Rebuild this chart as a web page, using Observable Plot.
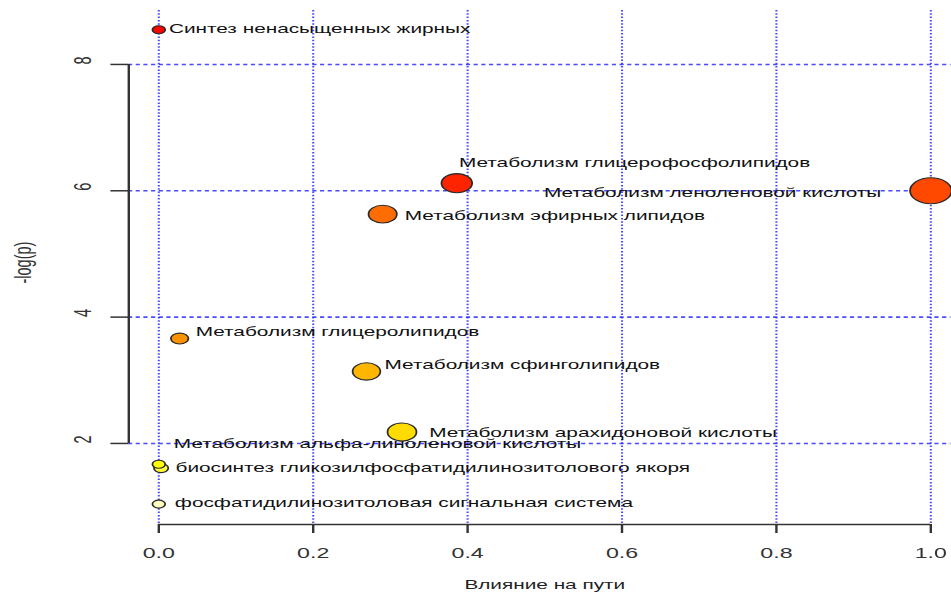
<!DOCTYPE html>
<html>
<head>
<meta charset="utf-8">
<script src="https://cdn.jsdelivr.net/npm/d3@7"></script>
<script src="https://cdn.jsdelivr.net/npm/@observablehq/plot@0.6"></script>
<style>
  html, body { margin: 0; padding: 0; background: #fff; }
  #chart { transform: scaleX(1.6); transform-origin: 0 0; width: 594px; height: 596px; }
</style>
</head>
<body>
<div id="chart"></div>
<script>
// ---- data ----
const pathways = [
  "Синтез ненасыщенных жирных",
  "Метаболизм глицерофосфолипидов",
  "Метаболизм леноленовой кислоты",
  "Метаболизм эфирных липидов",
  "Метаболизм глицеролипидов",
  "Метаболизм сфинголипидов",
  "Метаболизм арахидоновой кислоты",
  "Метаболизм альфа-линоленовой кислоты",
  "биосинтез гликозилфосфатидилинозитолового якоря",
  "фосфатидилинозитоловая сигнальная система"
];
const impact = [0.0, 0.386, 1.0, 0.290, 0.027, 0.269, 0.315, 0.0, 0.003, 0.0];
const logp   = [8.55, 6.12, 6.00, 5.63, 3.66, 3.14, 2.18, 1.67, 1.61, 1.04];
const xTicks = [0, 0.2, 0.4, 0.6, 0.8, 1.0];
const yTicks = [2, 4, 6, 8];
const xTitle = "Влияние на пути";
const yTitle = "-log(p)";

// ---- styling / layout (not data) ----
const heat = ["#FF0000", "#FF2400", "#FF4900", "#FF6D00", "#FF9200",
              "#FFB600", "#FFDB00", "#FFFF00", "#FFFF40", "#FFFFBF"];
// label offsets [dx, dy, anchor] in unscaled px
const labelOffsets = [
  [6.3, -1, "start"],
  [1.3, -20, "start"],
  [-31, 2, "end"],
  [13.8, 1.5, "start"],
  [10, -7, "start"],
  [11.25, -7, "start"],
  [17, 0.5, "start"],
  [9.4, -20, "start"],
  [9, -0.5, "start"],
  [10, -1.5, "start"]
];
const xDomain = [-0.03886, 1.0264];
const yDomain = [0.717, 8.854];

const data = pathways.map((name, i) => ({name, impact: impact[i], logp: logp[i]}));
const ranked = data.slice().sort((a, b) => b.logp - a.logp).map(d => d.name);

const font = "'Liberation Sans', Arial, sans-serif";
const gridColor = "#2b2bff";
const axisColor = "#333";

const marks = [
  Plot.gridX(xTicks, {stroke: gridColor, strokeOpacity: 0.85, strokeWidth: 1.3, strokeDasharray: "1.5,1.8"}),
  Plot.gridY(yTicks, {stroke: gridColor, strokeOpacity: 0.85, strokeWidth: 1.6, strokeDasharray: "2.6,2.2"}),
  Plot.ruleY([yDomain[0]], {x1: xTicks[0], x2: xTicks[xTicks.length - 1], stroke: axisColor, strokeWidth: 1.5}),
  Plot.ruleX([xDomain[0]], {y1: yTicks[0], y2: yTicks[yTicks.length - 1], stroke: axisColor, strokeWidth: 1.5}),
  Plot.axisX({ticks: xTicks, tickFormat: d3.format(".1f"), tickSize: 9, tickPadding: 14, fontSize: 14.5, color: axisColor, strokeWidth: 1.5, label: null}),
  Plot.axisY({ticks: yTicks, tickFormat: () => "", tickSize: 11, color: axisColor, strokeWidth: 1.5, label: null}),
  Plot.text(yTicks, {y: d => d, text: d => String(d), frameAnchor: "left", dx: -28, rotate: -90, fontSize: 14.5, fill: axisColor}),
  Plot.text([xTitle], {x: (xTicks[0] + xTicks[xTicks.length - 1]) / 2, text: d => d, frameAnchor: "bottom", dy: 64, fontSize: 13, fill: "#222"}),
  Plot.text([yTitle], {text: d => d, frameAnchor: "left", dx: -66, dy: 16, rotate: -90, fontSize: 14.5, fill: axisColor}),
  Plot.dot(data, {x: "impact", y: "logp", r: "impact", fill: "name", stroke: "#2a2a2a", strokeWidth: 1.1})
];
data.forEach((d, i) => {
  const [dx, dy, anchor] = labelOffsets[i];
  marks.push(Plot.text([d], {x: "impact", y: "logp", text: "name", dx, dy, textAnchor: anchor, fontSize: 13, fill: "#111"}));
});

const chart = Plot.plot({
  width: 594,
  height: 596,
  marginLeft: 80,
  marginRight: 0,
  marginTop: 10,
  marginBottom: 72,
  x: {domain: xDomain},
  y: {domain: yDomain},
  r: {type: "sqrt", domain: [0, 1], range: [4, 13]},
  color: {type: "ordinal", domain: ranked, range: heat},
  style: {fontFamily: font, background: "#fff", overflow: "visible", maxWidth: "none"},
  marks
});
document.getElementById("chart").appendChild(chart);
</script>
</body>
</html>
